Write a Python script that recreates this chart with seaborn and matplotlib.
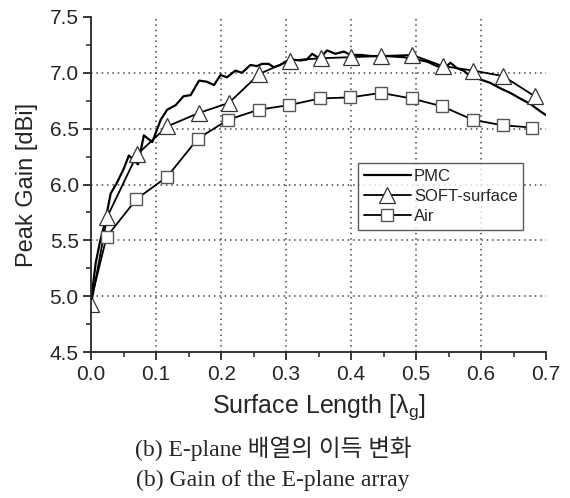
import matplotlib
matplotlib.use("Agg")
import matplotlib.pyplot as plt
import seaborn as sns
from matplotlib.ticker import MultipleLocator

# Datos
pmc_x = [0, 0.007, 0.014, 0.022, 0.03, 0.04, 0.05, 0.058, 0.072, 0.081, 0.094, 0.107, 0.117, 0.13,
         0.142, 0.153, 0.166, 0.178, 0.189, 0.199, 0.209, 0.222, 0.232, 0.245, 0.255, 0.263, 0.273,
         0.281, 0.291, 0.299, 0.307, 0.322, 0.332, 0.34, 0.348, 0.355, 0.363, 0.376, 0.389, 0.399,
         0.415, 0.43, 0.455, 0.481, 0.5, 0.517, 0.532, 0.545, 0.553, 0.563, 0.573, 0.583, 0.599,
         0.614, 0.63, 0.645, 0.66, 0.676, 0.69, 0.7]
pmc_y = [4.97, 5.3, 5.5, 5.68, 5.92, 6.02, 6.14, 6.26, 6.18, 6.44, 6.38, 6.58, 6.67, 6.71,
         6.79, 6.80, 6.93, 6.92, 6.89, 6.98, 6.96, 7.02, 7.0, 7.07, 7.06, 7.08, 7.08,
         7.05, 7.07, 7.10, 7.12, 7.11, 7.12, 7.17, 7.14, 7.15, 7.20, 7.17, 7.19, 7.16,
         7.16, 7.15, 7.15, 7.14, 7.12, 7.10, 7.06, 7.05, 7.09, 7.04, 7.02, 6.97, 6.94,
         6.91, 6.86, 6.82, 6.77, 6.72, 6.66, 6.62]

soft_x = [0, 0.0246, 0.0708, 0.117, 0.1655, 0.2117, 0.259, 0.3056, 0.353, 0.4, 0.4466, 0.494,
          0.541, 0.5877, 0.634, 0.6826]
soft_y = [4.93, 5.71, 6.27, 6.52, 6.64, 6.73, 6.99, 7.11, 7.13, 7.14, 7.15, 7.16,
          7.06, 7.02, 6.97, 6.79]

air_x = [0, 0.0236, 0.0697, 0.117, 0.164, 0.2108, 0.258, 0.304, 0.3518, 0.399, 0.446, 0.493,
         0.54, 0.587, 0.633, 0.679]
air_y = [4.97, 5.53, 5.87, 6.07, 6.41, 6.58, 6.67, 6.71, 6.77, 6.78, 6.82, 6.77,
         6.70, 6.58, 6.53, 6.51]

sns.set_style("ticks")
plt.rcParams['font.family'] = ['Liberation Sans', 'DejaVu Sans']
plt.rcParams['mathtext.fontset'] = 'custom'
plt.rcParams['mathtext.rm'] = 'Liberation Sans'
plt.rcParams['mathtext.it'] = 'Liberation Sans'

fig = plt.figure(figsize=(5.7, 4.98), dpi=100)
ax = fig.add_axes([0.16, 0.293, 0.798, 0.673])

sns.lineplot(x=pmc_x, y=pmc_y, ax=ax, color='black', linewidth=1.6, label='PMC', sort=False)
sns.lineplot(x=soft_x, y=soft_y, ax=ax, color='black', linewidth=1.3, marker='^', markersize=11,
             markerfacecolor='white', markeredgecolor='#333333', markeredgewidth=0.9,
             label='SOFT-surface', sort=False)
sns.lineplot(x=air_x, y=air_y, ax=ax, color='black', linewidth=1.3, marker='s', markersize=8,
             markerfacecolor='white', markeredgecolor='#555555', markeredgewidth=1.0,
             markevery=list(range(1, len(air_x))), label='Air', sort=False)

ax.set_xlim(0, 0.7)
ax.set_ylim(4.5, 7.5)
ax.xaxis.set_major_locator(MultipleLocator(0.1))
ax.xaxis.set_minor_locator(MultipleLocator(0.05))
ax.yaxis.set_major_locator(MultipleLocator(0.5))
ax.yaxis.set_minor_locator(MultipleLocator(0.25))
ax.xaxis.set_major_formatter(plt.FormatStrFormatter('%.1f'))
ax.yaxis.set_major_formatter(plt.FormatStrFormatter('%.1f'))

# Cuadrícula punteada solo en el interior
for gx in [0.1, 0.2, 0.3, 0.4, 0.5, 0.6]:
    ax.axvline(gx, color='#444444', linestyle=(0, (1, 2.5)), linewidth=1.1, zorder=0)
for gy in [5.0, 5.5, 6.0, 6.5, 7.0]:
    ax.axhline(gy, color='#444444', linestyle=(0, (1, 2.5)), linewidth=1.1, zorder=0)

sns.despine(ax=ax)
for s in ['left', 'bottom']:
    ax.spines[s].set_linewidth(1.3)
ax.tick_params(which='major', direction='out', length=6, width=1.3, labelsize=15, pad=3)
ax.tick_params(which='minor', direction='out', length=3.5, width=1.1)

ax.set_xlabel(r'Surface Length [$\mathregular{\lambda_g}$]', fontsize=18, labelpad=6)
ax.set_ylabel('Peak Gain [dBi]', fontsize=17, labelpad=8)

leg = ax.legend(loc='upper left', bbox_to_anchor=(0.587, 0.564), fontsize=12, frameon=True,
                fancybox=False, edgecolor='#333333', handlelength=2.8, handletextpad=0.2,
                borderpad=0.35, labelspacing=0.3, borderaxespad=0)
leg.get_frame().set_linewidth(1.0)

fig.text(0.479, 0.1, '(b) E-plane 배열의 이득 변화', ha='center', va='center', fontsize=17,
         family=['Liberation Serif', 'Noto Sans CJK KR'])
fig.text(0.479, 0.035, '(b) Gain of the E-plane array', ha='center', va='center', fontsize=17,
         family=['Liberation Serif', 'Noto Sans CJK KR'])

fig.savefig('out.png', dpi=100)
